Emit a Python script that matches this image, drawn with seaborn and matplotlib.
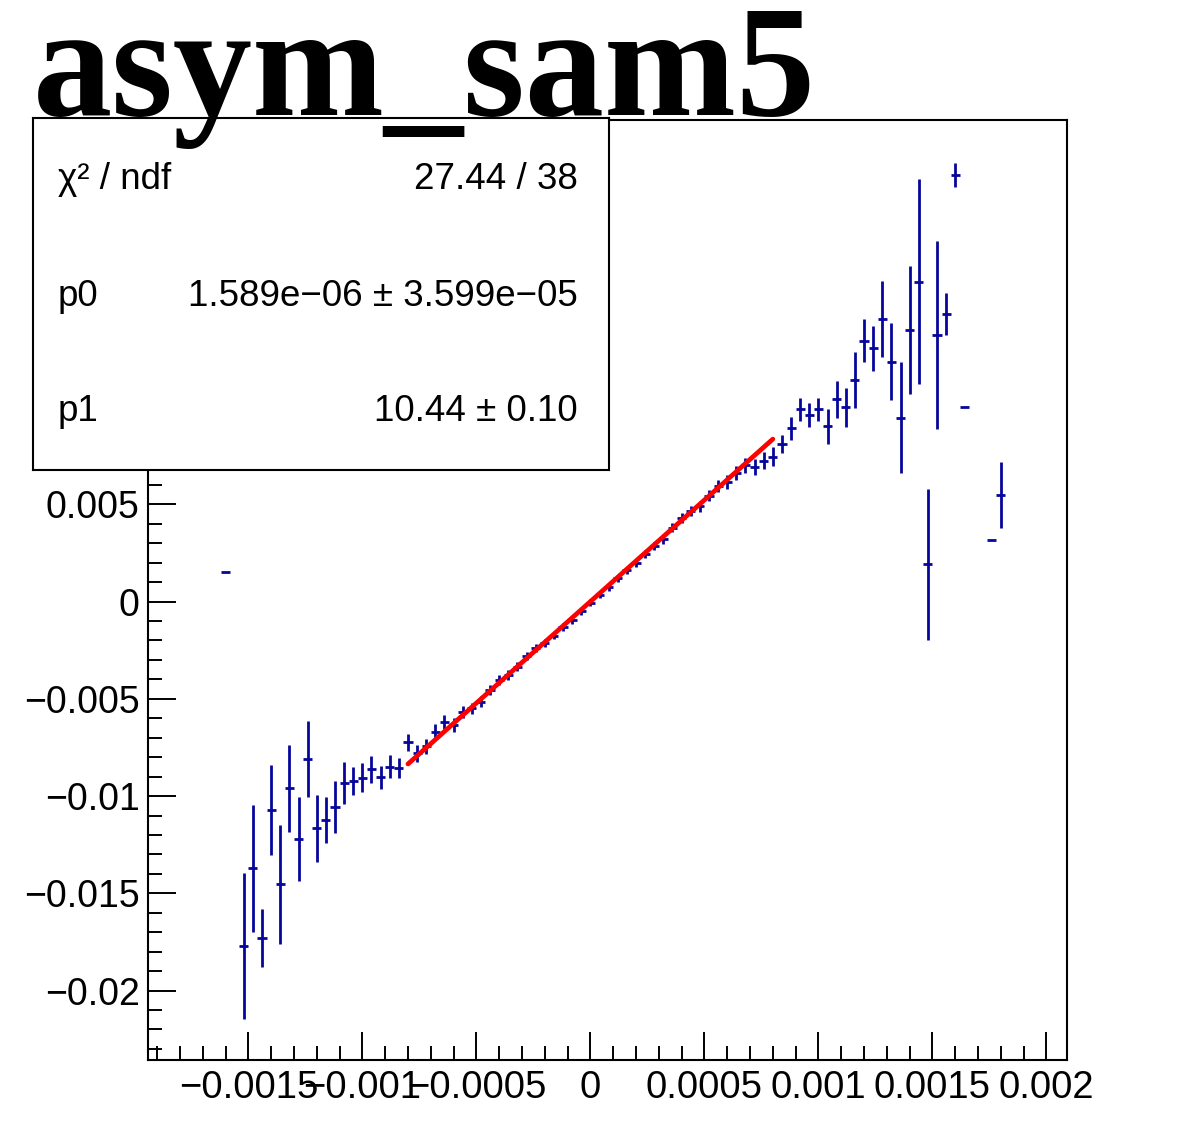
import numpy as np
import pandas as pd
import matplotlib
matplotlib.use("Agg")
import matplotlib.pyplot as plt
import seaborn as sns
from matplotlib.ticker import MultipleLocator, FuncFormatter

# ---------------- data ----------------
title = "asym_sam5"

bin_center = [
    -0.00160, -0.00152, -0.00148, -0.00144, -0.00140, -0.00136, -0.00132, -0.00128,
    -0.00124, -0.00120, -0.00116, -0.00112, -0.00108, -0.00104, -0.00100, -0.00096,
    -0.00092, -0.00088, -0.00084, -0.00080, -0.00076, -0.00072, -0.00068, -0.00064,
    -0.00060, -0.00056, -0.00052, -0.00048, -0.00044, -0.00040, -0.00036, -0.00032,
    -0.00028, -0.00024, -0.00020, -0.00016, -0.00012, -0.00008, -0.00004, 0.00000,
    0.00004, 0.00008, 0.00012, 0.00016, 0.00020, 0.00024, 0.00028, 0.00032,
    0.00036, 0.00040, 0.00044, 0.00048, 0.00052, 0.00056, 0.00060, 0.00064,
    0.00068, 0.00072, 0.00076, 0.00080, 0.00084, 0.00088, 0.00092, 0.00096,
    0.00100, 0.00104, 0.00108, 0.00112, 0.00116, 0.00120, 0.00124, 0.00128,
    0.00132, 0.00136, 0.00140, 0.00144, 0.00148, 0.00152, 0.00156, 0.00160,
    0.00164, 0.00176, 0.00180,
]
asym = [
    0.00152, -0.01770, -0.01372, -0.01729, -0.01072, -0.01454, -0.00960, -0.01221,
    -0.00810, -0.01166, -0.01123, -0.01055, -0.00932, -0.00921, -0.00906, -0.00863,
    -0.00904, -0.00849, -0.00855, -0.00724, -0.00780, -0.00745, -0.00669, -0.00618,
    -0.00635, -0.00567, -0.00549, -0.00515, -0.00455, -0.00404, -0.00378, -0.00335,
    -0.00280, -0.00240, -0.00215, -0.00175, -0.00130, -0.00095, -0.00050, -0.00005,
    0.00035, 0.00075, 0.00120, 0.00160, 0.00200, 0.00245, 0.00285, 0.00320,
    0.00380, 0.00430, 0.00465, 0.00490, 0.00545, 0.00595, 0.00615, 0.00660,
    0.00700, 0.00693, 0.00725, 0.00745, 0.00810, 0.00890, 0.00988, 0.00959,
    0.00988, 0.00902, 0.01040, 0.00998, 0.01139, 0.01341, 0.01302, 0.01452,
    0.01233, 0.00945, 0.01396, 0.01644, 0.00191, 0.01370, 0.01480, 0.02193,
    0.01000, 0.00316, 0.00548,
]
asym_err = [
    0.0, 0.00374, 0.00325, 0.00149, 0.00231, 0.00307, 0.00223, 0.00216,
    0.00197, 0.00174, 0.00120, 0.00133, 0.00109, 0.00073, 0.00075, 0.00070,
    0.00058, 0.00059, 0.00053, 0.00045, 0.00045, 0.00040, 0.00038, 0.00036,
    0.00034, 0.00032, 0.00030, 0.00028, 0.00027, 0.00025, 0.00024, 0.00023,
    0.00022, 0.00021, 0.00020, 0.00020, 0.00019, 0.00019, 0.00019, 0.00019,
    0.00019, 0.00019, 0.00019, 0.00020, 0.00020, 0.00021, 0.00022, 0.00023,
    0.00024, 0.00025, 0.00027, 0.00028, 0.00030, 0.00032, 0.00034, 0.00036,
    0.00038, 0.00040, 0.00042, 0.00050, 0.00045, 0.00060, 0.00060, 0.00060,
    0.00060, 0.00090, 0.00094, 0.00098, 0.00144, 0.00110, 0.00116, 0.00195,
    0.00197, 0.00285, 0.00328, 0.00527, 0.00390, 0.00485, 0.00107, 0.00060,
    0.0, 0.0, 0.00170,
]
half_bin_width = 0.00002

p0, p0_err = 1.589e-06, 3.599e-05
p1, p1_err = 10.44, 0.10
chi2, ndf = 27.44, 38
fit_lo, fit_hi = -0.0008, 0.0008

df = pd.DataFrame({"x": bin_center, "y": asym, "err": asym_err})
x_fit = np.linspace(fit_lo, fit_hi, 100)
fit_df = pd.DataFrame({"x": x_fit, "y": p0 + p1 * x_fit})

# ---------------- style ----------------
sns.set_theme(style="white")
plt.rcParams["font.family"] = ["Liberation Sans", "DejaVu Sans"]
plt.rcParams["axes.unicode_minus"] = True

W, H = 1184, 1128
fig = plt.figure(figsize=(W / 100, H / 100), dpi=100)
fig.patch.set_facecolor("white")

ax = fig.add_axes([148 / W, (H - 1060) / H, (1067 - 148) / W, (1060 - 120) / H])
ax.set_facecolor("white")

ax.errorbar(df["x"], df["y"], xerr=half_bin_width, yerr=df["err"], fmt="none",
            ecolor="#06069c", elinewidth=2.0, capsize=0, zorder=2)
sns.lineplot(data=fit_df, x="x", y="y", color="#ff0000", linewidth=3.4,
             ax=ax, zorder=3, legend=False)

ax.set_xlim(-0.00194, 0.00209)
ax.set_ylim(-0.02357, 0.02476)
ax.set_xlabel("")
ax.set_ylabel("")

ax.xaxis.set_major_locator(MultipleLocator(0.0005))
ax.xaxis.set_minor_locator(MultipleLocator(0.0001))
ax.yaxis.set_major_locator(MultipleLocator(0.005))
ax.yaxis.set_minor_locator(MultipleLocator(0.001))


def root_fmt(v, pos):
    s = "%g" % round(v, 7)
    if s in ("-0", "0"):
        return "0"
    return s.replace("-", "\u2212")


def y_fmt(v, pos):
    # labels above 0.005 are hidden behind the statistics box
    if v > 0.0075:
        return ""
    return root_fmt(v, pos)


ax.xaxis.set_major_formatter(FuncFormatter(root_fmt))
ax.yaxis.set_major_formatter(FuncFormatter(y_fmt))

for sp in ax.spines.values():
    sp.set_color("black")
    sp.set_linewidth(1.5)
    sp.set_visible(True)

ax.tick_params(axis="both", which="both", direction="in", top=False, right=False,
               bottom=True, left=True, color="black", width=1.4, labelcolor="black")
ax.tick_params(axis="both", which="major", length=20)
ax.tick_params(axis="both", which="minor", length=10)
ax.tick_params(axis="y", which="major", labelsize=27, pad=6)
ax.tick_params(axis="x", which="major", labelsize=27.5, pad=7)
ax.grid(False)

# ---------------- stats box ----------------
sax = fig.add_axes([33 / W, (H - 470) / H, (609 - 33) / W, (470 - 118) / H])
sax.set_facecolor("white")
sax.set_xticks([])
sax.set_yticks([])
sax.set_xlim(0, 1)
sax.set_ylim(0, 1)
for sp in sax.spines.values():
    sp.set_color("black")
    sp.set_linewidth(1.5)
    sp.set_visible(True)


def sci(v):
    return ("%.3e" % v).replace("-", "\u2212")


rows = [
    ("\u03c7\u00b2 / ndf", "%.2f / %d" % (chi2, ndf)),
    ("p0", "%s \u00b1 %s" % (sci(p0), sci(p0_err))),
    ("p1", "%.2f \u00b1 %.2f" % (p1, p1_err)),
]
row_y = [0.824, 0.494, 0.165]
for (lab, val), yy in zip(rows, row_y):
    sax.text(0.043, yy, lab, ha="left", va="center", fontsize=26.5, color="black")
    sax.text(0.946, yy, val, ha="right", va="center", fontsize=26.5, color="black")

# ---------------- title ----------------
fig.text(33 / W, (H - 115) / H, title, ha="left", va="baseline",
         fontsize=114, fontweight="bold", family=["Liberation Serif", "DejaVu Serif"],
         color="black", zorder=10)

fig.savefig("out.png", dpi=100, facecolor="white")
